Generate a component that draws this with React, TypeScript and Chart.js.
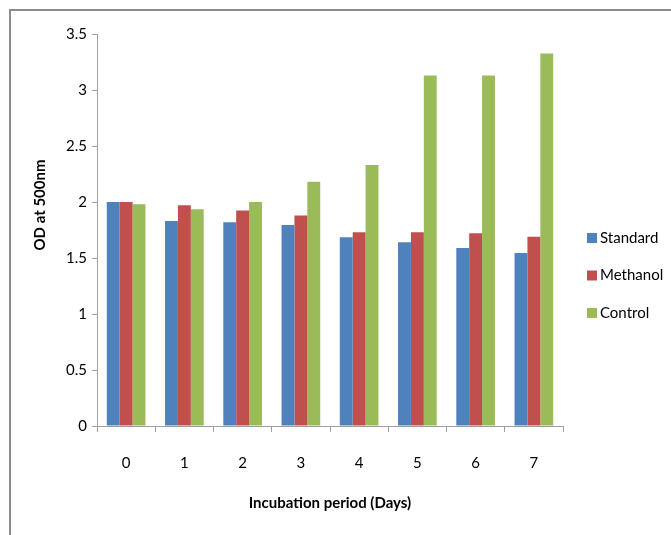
import React, { useEffect, useRef } from "react";
import { Chart, registerables } from "chart.js";

Chart.register(...registerables);

const days = ["0", "1", "2", "3", "4", "5", "6", "7"];
const standardValues = [2.0, 1.83, 1.82, 1.795, 1.685, 1.64, 1.59, 1.545];
const methanolValues = [2.0, 1.97, 1.925, 1.88, 1.73, 1.73, 1.72, 1.69];
const controlValues = [1.98, 1.935, 2.0, 2.18, 2.33, 3.13, 3.13, 3.325];
const seriesNames = ["Standard", "Methanol", "Control"];
const seriesColors = ["#4F81BD", "#C0504D", "#9BBB59"];
const yTitle = "OD at 500nm";
const xTitle = "Incubation period (Days)";

const FONT = "Lato, 'Open Sans', 'Liberation Sans', sans-serif";

const extrasPlugin = {
  id: "extras",
  afterDraw(chart: any) {
    const ctx = chart.ctx;
    ctx.save();
    // y axis title
    ctx.translate(40, 205);
    ctx.rotate(-Math.PI / 2);
    ctx.font = `bold 15px ${FONT}`;
    ctx.fillStyle = "#000";
    ctx.textAlign = "center";
    ctx.textBaseline = "middle";
    ctx.fillText(yTitle, 0, 0);
    ctx.restore();

    // legend
    ctx.save();
    ctx.font = `15px ${FONT}`;
    ctx.textBaseline = "middle";
    ctx.textAlign = "left";
    chart.data.datasets.forEach((ds: any, i: number) => {
      const cy = 238 + i * 37.5;
      ctx.fillStyle = ds.backgroundColor;
      ctx.fillRect(587, cy - 5, 10, 10);
      ctx.fillStyle = "#000";
      ctx.fillText(ds.label, 600, cy);
    });
    ctx.restore();
  },
};

export default function App() {
  const ref = useRef<HTMLCanvasElement | null>(null);

  useEffect(() => {
    if (!ref.current) return;
    const values = [standardValues, methanolValues, controlValues];
    const chart = new Chart(ref.current, {
      type: "bar",
      data: {
        labels: days,
        datasets: seriesNames.map((name, i) => ({
          label: name,
          data: values[i],
          backgroundColor: seriesColors[i],
          borderWidth: 0,
          categoryPercentage: 0.664,
          barPercentage: 1.0,
        })),
      },
      options: {
        responsive: false,
        animation: false,
        layout: { padding: { left: 0, top: 34, right: 108, bottom: 0 } },
        plugins: {
          legend: { display: false },
          tooltip: { enabled: false },
        },
        scales: {
          x: {
            grid: {
              display: true,
              drawOnChartArea: false,
              drawTicks: true,
              tickLength: 6,
              color: "#a0a0a0",
              offset: true,
            },
            border: { display: true, color: "#a0a0a0", width: 1 },
            ticks: {
              color: "#000",
              font: { family: FONT, size: 15 },
              padding: 22,
            },
            title: {
              display: true,
              text: xTitle,
              color: "#000",
              font: { family: FONT, size: 15, weight: "bold" },
              padding: { top: 0, bottom: 23 },
            },
            afterFit(scale: any) {
              scale.height = 109;
            },
          },
          y: {
            min: 0,
            max: 3.5,
            ticks: {
              stepSize: 0.5,
              color: "#000",
              font: { family: FONT, size: 15 },
              padding: 5,
              callback: (v: any) => String(Number(v)),
            },
            grid: {
              display: true,
              drawOnChartArea: false,
              drawTicks: true,
              tickLength: 5,
              color: "#a0a0a0",
            },
            border: { display: true, color: "#a0a0a0", width: 1 },
            afterFit(scale: any) {
              scale.width = 97;
            },
          },
        },
      } as any,
      plugins: [extrasPlugin],
    });
    return () => chart.destroy();
  }, []);

  return (
    <div
      style={{
        position: "absolute",
        left: 0,
        top: 0,
        width: 671,
        height: 535,
        overflow: "hidden",
        background: "#fff",
      }}
    >
      <div
        style={{
          position: "absolute",
          left: 9,
          top: 9,
          width: 800,
          height: 800,
          borderLeft: "2px solid #8c8c8c",
          borderTop: "2px solid #8c8c8c",
        }}
      />
      <canvas
        ref={ref}
        width={671}
        height={535}
        style={{ position: "absolute", left: 0, top: 0, width: 671, height: 535 }}
      />
    </div>
  );
}
